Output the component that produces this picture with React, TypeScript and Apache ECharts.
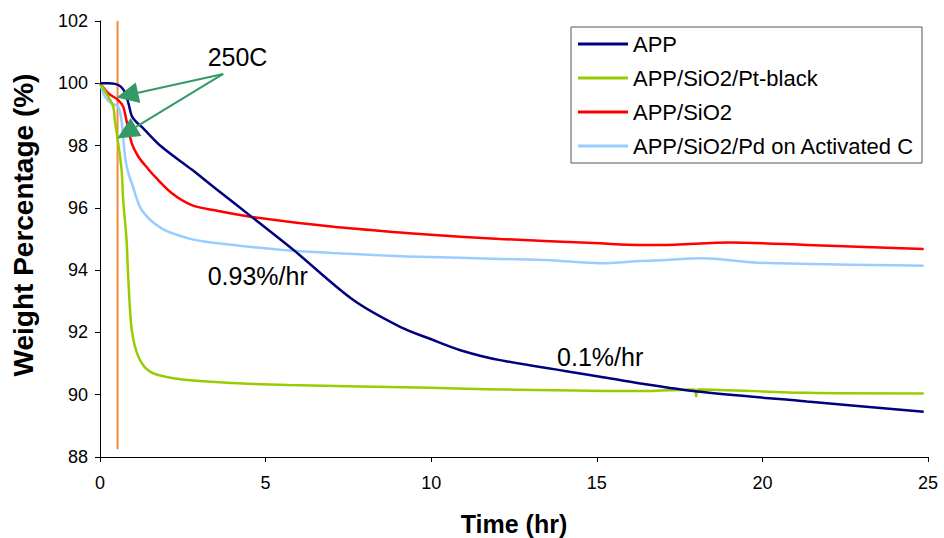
import React, { useEffect, useRef } from "react";
import * as echarts from "echarts";

// ---- Data ----
const APP_T = [0, 0.25, 0.45, 0.62, 0.76, 0.86, 0.96, 1.1, 1.26, 1.86, 2.77, 3.42, 4.58, 5.84, 7.65, 9.06, 10.0, 10.88, 12.08, 15.1, 16.31, 18.03, 21.35, 24.87];
const APP_V = [100.0, 100.0, 99.98, 99.9, 99.7, 99.35, 98.95, 98.75, 98.6, 97.96, 97.23, 96.68, 95.71, 94.65, 93.04, 92.18, 91.78, 91.43, 91.11, 90.58, 90.36, 90.1, 89.78, 89.45];

const PT_T = [0, 0.25, 0.4, 0.45, 0.55, 0.65, 0.7, 0.8, 0.86, 0.96, 1.16, 1.51, 2.21, 3.73, 5.69, 10.0, 12.08, 16.31, 17.95, 18.0, 18.05, 21.35, 24.87];
const PT_V = [100.0, 99.57, 99.25, 98.8, 98.07, 97.24, 96.25, 95.0, 93.6, 92.08, 91.22, 90.74, 90.53, 90.39, 90.31, 90.22, 90.17, 90.12, 90.17, 89.95, 90.17, 90.06, 90.04];

const SIO2_T = [0, 0.25, 0.55, 0.7, 0.8, 0.96, 1.16, 1.46, 1.66, 2.17, 2.77, 3.42, 4.58, 7.05, 9.06, 9.67, 12.08, 15.1, 16.31, 16.92, 19.03, 21.35, 24.87];
const SIO2_V = [100.0, 99.68, 99.46, 99.25, 98.8, 98.07, 97.64, 97.24, 97.0, 96.47, 96.09, 95.93, 95.71, 95.39, 95.21, 95.16, 95.0, 94.86, 94.81, 94.81, 94.89, 94.81, 94.68];

const PD_T = [0, 0.15, 0.35, 0.55, 0.65, 0.7, 0.76, 0.86, 0.96, 1.26, 1.86, 2.67, 3.42, 5.84, 9.06, 9.67, 12.08, 13.6, 15.1, 16.31, 16.92, 18.18, 19.84, 24.87];
const PD_V = [100.0, 99.57, 99.35, 99.25, 98.8, 98.28, 97.6, 97.1, 96.79, 95.93, 95.34, 95.02, 94.88, 94.62, 94.45, 94.43, 94.36, 94.32, 94.22, 94.29, 94.32, 94.38, 94.24, 94.14];

const HEAT_T = [0.53, 0.53];
const HEAT_V = [102, 88.25];

const SERIES_NAMES = ["APP", "APP/SiO2/Pt-black", "APP/SiO2", "APP/SiO2/Pd on Activated C"];
const SERIES_COLORS = ["#000080", "#99CC00", "#FF0000", "#99CCFF"];

const X_MIN = 0, X_MAX = 25, X_STEP = 5;
const Y_MIN = 88, Y_MAX = 102, Y_STEP = 2;
const X_TITLE = "Time (hr)";
const Y_TITLE = "Weight Percentage (%)";

// annotations (data coordinates)
const ARROW_TAIL = [3.72, 100.3];
const ARROW_TIPS = [[0.5, 99.54], [0.52, 98.23]];
const NOTES = [
  { text: "250C", at: [3.25, 100.85] },
  { text: "0.93%/hr", at: [3.25, 93.8] },
  { text: "0.1%/hr", at: [13.8, 91.2] },
];

const zip = (t: number[], v: number[]) => t.map((x, i) => [x, v[i]]);

const FONT = "'Liberation Sans', Arial, sans-serif";

export default function App() {
  const ref = useRef<HTMLDivElement>(null);
  useEffect(() => {
    document.body.style.margin = "0";
    const chart = echarts.init(ref.current!, null, { renderer: "svg" });
    const datasets = [zip(APP_T, APP_V), zip(PT_T, PT_V), zip(SIO2_T, SIO2_V), zip(PD_T, PD_V)];
    const lineSeries: any[] = datasets.map((d, i) => ({
      name: SERIES_NAMES[i],
      type: "line",
      data: d,
      symbol: "none",
      smooth: 0.3,
      color: SERIES_COLORS[i],
      lineStyle: { width: 2.5, color: SERIES_COLORS[i] },
      z: 3 + (3 - i),
    }));
    lineSeries.push({
      name: "heat",
      type: "line",
      data: zip(HEAT_T, HEAT_V),
      symbol: "none",
      lineStyle: { width: 2, color: "#F58A3C" },
      color: "#F58A3C",
      z: 2,
    });
    chart.setOption({
      animation: false,
      textStyle: { fontFamily: FONT },
      grid: { left: 100, right: 16, top: 21, bottom: 81, outerBoundsMode: "none", containLabel: false },
      legend: {
        data: SERIES_NAMES,
        orient: "vertical",
        left: 578,
        top: 33,
        padding: 0,
        icon: "rect",
        itemWidth: 50,
        itemHeight: 3,
        itemGap: 12,
        textStyle: { fontSize: 22, color: "#000", fontFamily: FONT },
      },
      xAxis: {
        type: "value",
        min: X_MIN,
        max: X_MAX,
        interval: X_STEP,
        name: X_TITLE,
        nameLocation: "middle",
        nameGap: 54,
        nameTextStyle: { fontSize: 25, fontWeight: "bold", color: "#000", fontFamily: FONT },
        axisLine: { lineStyle: { color: "#000", width: 1 } },
        axisTick: { length: 5, lineStyle: { color: "#000" } },
        axisLabel: { fontSize: 18, color: "#000", margin: 17 },
        splitLine: { show: false },
      },
      yAxis: {
        type: "value",
        min: Y_MIN,
        max: Y_MAX,
        interval: Y_STEP,
        axisLine: { show: true, lineStyle: { color: "#000", width: 1 } },
        axisTick: { show: true, length: 5, lineStyle: { color: "#000" } },
        axisLabel: { fontSize: 18, color: "#000", margin: 12 },
        splitLine: { show: false },
      },
      series: lineSeries,
    });

    const px = (p: number[]) => chart.convertToPixel({ gridIndex: 0 }, p) as number[];
    const tail = px(ARROW_TAIL);
    const graphics: any[] = [
      {
        type: "rect",
        shape: { x: 571, y: 27, width: 351, height: 136 },
        style: { fill: "none", stroke: "#555", lineWidth: 1 },
        z: 1,
      },
      {
        type: "text",
        x: 23,
        y: 225,
        rotation: Math.PI / 2,
        style: {
          text: Y_TITLE,
          fontSize: 28,
          fontWeight: "bold",
          fontFamily: FONT,
          fill: "#000",
          textAlign: "center",
          textVerticalAlign: "middle",
        },
      },
    ];
    ARROW_TIPS.forEach((tipD) => {
      const tip = px(tipD);
      const dx = tip[0] - tail[0];
      const dy = tip[1] - tail[1];
      const len = Math.hypot(dx, dy);
      const ux = dx / len, uy = dy / len;
      const headLen = 22, headHalf = 10.5;
      const bx = tip[0] - ux * headLen, by = tip[1] - uy * headLen;
      graphics.push({
        type: "line",
        shape: { x1: tail[0], y1: tail[1], x2: bx, y2: by },
        style: { stroke: "#339966", lineWidth: 2 },
        z: 10,
      });
      graphics.push({
        type: "polygon",
        shape: {
          points: [
            [tip[0], tip[1]],
            [bx - uy * headHalf, by + ux * headHalf],
            [bx + uy * headHalf, by - ux * headHalf],
          ],
        },
        style: { fill: "#339966" },
        z: 10,
      });
    });
    NOTES.forEach((n) => {
      const p = px(n.at);
      graphics.push({
        type: "text",
        x: p[0],
        y: p[1],
        style: {
          text: n.text,
          fontSize: 25,
          fontFamily: FONT,
          fill: "#000",
          textAlign: "left",
          textVerticalAlign: "middle",
        },
        z: 10,
      });
    });
    chart.setOption({ graphic: graphics });
    return () => chart.dispose();
  }, []);
  return <div ref={ref} style={{ width: 944, height: 538 }} />;
}
